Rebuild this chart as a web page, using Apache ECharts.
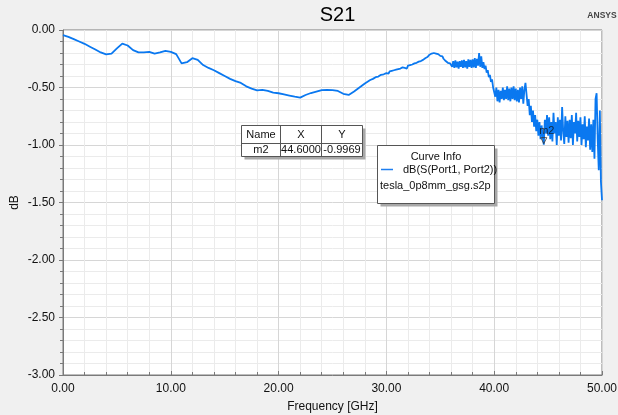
<!DOCTYPE html>
<html>
<head>
<meta charset="utf-8">
<script src="https://cdn.jsdelivr.net/npm/echarts@6/dist/echarts.min.js"></script>
<style>
html,body{margin:0;padding:0;background:#f0f0f0;}
#c{width:618px;height:415px;}
</style>
</head>
<body>
<div id="c"></div>
<script>
// Smooth low-frequency part (GHz, dB)
const smoothFreq = [0,0.5,1,1.5,2,2.5,3,3.5,4,4.5,5,5.5,6,6.5,7,7.5,8,8.5,9,9.5,10,10.5,11,11.5,12,12.5,13,13.5,14,14.5,15,15.5,16,16.5,17,17.5,18,18.5,19,19.5,20,20.5,21,21.5,22,22.5,23,23.5,24,24.5,25,25.5,26,26.5,27,27.5,28,28.25,28.5,28.75,29,29.25,29.5,29.75];
const smoothDb = [-0.045,-0.06,-0.08,-0.10,-0.12,-0.145,-0.17,-0.195,-0.212,-0.205,-0.16,-0.118,-0.135,-0.175,-0.195,-0.195,-0.19,-0.205,-0.195,-0.182,-0.19,-0.21,-0.29,-0.28,-0.245,-0.26,-0.305,-0.33,-0.35,-0.375,-0.40,-0.425,-0.445,-0.46,-0.49,-0.51,-0.525,-0.52,-0.53,-0.545,-0.55,-0.56,-0.57,-0.58,-0.588,-0.565,-0.548,-0.535,-0.522,-0.52,-0.522,-0.53,-0.555,-0.565,-0.535,-0.5,-0.465,-0.45,-0.435,-0.425,-0.41,-0.405,-0.39,-0.385];
// Noisy sweep from 30.0 to 50.0 GHz, 0.1 GHz steps (dB)
const sweepStart = 30.0, sweepStep = 0.1;
const sweepDb = [
-0.375,-0.365,-0.38,-0.36,-0.37,-0.355,-0.365,-0.35,-0.36,-0.345,
-0.355,-0.34,-0.35,-0.335,-0.345,-0.325,-0.34,-0.33,-0.32,-0.335,
-0.31,-0.325,-0.305,-0.315,-0.3,-0.31,-0.29,-0.305,-0.285,-0.295,
-0.275,-0.29,-0.27,-0.28,-0.26,-0.265,-0.245,-0.255,-0.235,-0.23,
-0.215,-0.225,-0.205,-0.215,-0.2,-0.21,-0.205,-0.22,-0.21,-0.225,
-0.225,-0.24,-0.23,-0.25,-0.255,-0.27,-0.265,-0.285,-0.275,-0.29,
-0.28,-0.32,-0.27,-0.33,-0.265,-0.325,-0.275,-0.335,-0.27,-0.32,
-0.265,-0.33,-0.26,-0.325,-0.27,-0.335,-0.255,-0.32,-0.26,-0.33,
-0.255,-0.325,-0.245,-0.33,-0.25,-0.31,-0.2,-0.32,-0.23,-0.33,
-0.28,-0.34,-0.31,-0.37,-0.35,-0.41,-0.39,-0.45,-0.43,-0.5,
-0.49,-0.58,-0.5,-0.62,-0.52,-0.63,-0.53,-0.6,-0.5,-0.61,
-0.52,-0.6,-0.49,-0.61,-0.51,-0.62,-0.5,-0.6,-0.49,-0.61,
-0.51,-0.62,-0.52,-0.63,-0.5,-0.6,-0.49,-0.64,-0.52,-0.46,
-0.56,-0.66,-0.6,-0.74,-0.66,-0.8,-0.7,-0.84,-0.74,-0.88,
-0.78,-0.92,-0.8,-0.95,-0.83,-0.93,-0.9969,-0.78,-0.9,-0.74,
-0.92,-0.76,-0.95,-0.8,-0.97,-0.72,-0.9,-0.8,-1.0,-0.76,
-0.92,-0.78,-0.96,-0.67,-0.88,-0.99,-0.75,-0.93,-0.79,-0.98,
-0.78,-0.94,-0.74,-1.0,-0.8,-0.9,-0.72,-0.97,-0.79,-0.93,
-0.76,-1.0,-0.82,-0.95,-0.75,-1.02,-0.84,-0.96,-0.77,-1.04,
-0.82,-1.06,-0.78,-1.12,-0.6,-0.55,-0.95,-1.22,-0.7,-1.32,
-1.48];
// Marker
const markerName = 'm2', markerX = 44.6, markerY = -0.9969;
const seriesName = 'dB(S(Port1, Port2))';
const fileName = 'tesla_0p8mm_gsg.s2p';

const data = [];
for (let i = 0; i < smoothFreq.length; i++) data.push([smoothFreq[i], smoothDb[i]]);
for (let i = 0; i < sweepDb.length; i++) data.push([Math.round((sweepStart + i * sweepStep) * 10) / 10, sweepDb[i]]);

const FONT = '"Liberation Sans", Arial, sans-serif';
const chart = echarts.init(document.getElementById('c'), null, {renderer: 'canvas'});

function box(x, y, w, h) {
  return [
    {type: 'rect', shape: {x: x + 3, y: y + 3, width: w, height: h}, style: {fill: '#a8a8a8'}, z: 100},
    {type: 'rect', shape: {x: x, y: y, width: w, height: h}, style: {fill: '#fff', stroke: '#555', lineWidth: 1}, z: 101}
  ];
}
function txt(x, y, s, align) {
  return {type: 'text', x: x, y: y, z: 102, style: {text: s, font: '11px ' + FONT, fill: '#111', align: align || 'center', verticalAlign: 'middle'}};
}
function line(x1, y1, x2, y2, color, w) {
  return {type: 'line', z: 102, shape: {x1: x1, y1: y1, x2: x2, y2: y2}, style: {stroke: color || '#555', lineWidth: w || 1}};
}

const graphics = [].concat(
  box(241.5, 125.5, 121, 31),
  [line(241.5, 143.5, 362.5, 143.5), line(280.5, 125.5, 280.5, 156.5), line(321.5, 125.5, 321.5, 156.5),
   txt(261, 134.5, 'Name'), txt(301, 134.5, 'X'), txt(342, 134.5, 'Y'),
   txt(261, 150, markerName), txt(301, 150, markerX.toFixed(4)), txt(342, 150, markerY.toFixed(4))],
  box(377.5, 145.5, 117, 58),
  [txt(436, 157, 'Curve Info'), line(381, 169.5, 393, 169.5, '#1e7ff0', 1.5),
   txt(403, 170, seriesName, 'left'), txt(380, 186, fileName, 'left')],
  [{type: 'text', x: 602, y: 16, z: 102, style: {text: 'ANSYS', font: 'bold 8.5px ' + FONT, fill: '#444', align: 'center', verticalAlign: 'middle'}}]
);

chart.setOption({
  backgroundColor: '#f0f0f0',
  animation: false,
  title: {text: 'S21', left: 332.5, textAlign: 'center', top: 0,
    textStyle: {fontFamily: FONT, fontSize: 20, fontWeight: 'normal', color: '#000'}},
  grid: {left: 63, right: 16, top: 30, bottom: 40, containLabel: false, outerBoundsMode: 'none',
    show: true, backgroundColor: '#fff', borderColor: '#7a7a7a', borderWidth: 1},
  xAxis: {
    type: 'value', min: 0, max: 50, interval: 10,
    name: 'Frequency [GHz]', nameLocation: 'middle', nameGap: 26,
    nameTextStyle: {fontFamily: FONT, fontSize: 12, color: '#111'},
    axisLine: {onZero: false, lineStyle: {color: '#7a7a7a'}},
    axisTick: {show: true, inside: true, length: 4, lineStyle: {color: '#7a7a7a'}},
    minorTick: {show: true, splitNumber: 5, length: 3, lineStyle: {color: '#7a7a7a'}},
    axisLabel: {fontFamily: FONT, fontSize: 12, color: '#111', margin: 8, formatter: v => v.toFixed(2)},
    splitLine: {show: true, lineStyle: {color: '#d6d6d6', width: 1}},
    minorSplitLine: {show: true, lineStyle: {color: '#ebebeb', width: 1}}
  },
  yAxis: {
    type: 'value', min: -3, max: 0, interval: 0.5,
    name: 'dB', nameLocation: 'middle', nameGap: 42, nameMoveOverlap: false,
    nameTextStyle: {fontFamily: FONT, fontSize: 12, color: '#111'},
    axisLine: {show: true, onZero: false, lineStyle: {color: '#7a7a7a'}},
    axisTick: {show: true, inside: false, length: 4, lineStyle: {color: '#7a7a7a'}},
    minorTick: {show: true, splitNumber: 5, length: 3, lineStyle: {color: '#7a7a7a'}},
    axisLabel: {fontFamily: FONT, fontSize: 12, color: '#111', margin: 8, formatter: v => v.toFixed(2)},
    splitLine: {show: true, lineStyle: {color: '#d6d6d6', width: 1}},
    minorSplitLine: {show: true, lineStyle: {color: '#ebebeb', width: 1}}
  },
  series: [
    {type: 'line', name: seriesName, data: data, showSymbol: false, symbol: 'none',
      lineStyle: {color: '#0a78f0', width: 1.8}, z: 3},
    {type: 'scatter', data: [[markerX, markerY]], symbol: 'triangle', symbolRotate: 180, symbolSize: 6,
      symbolOffset: [0, -4],
      itemStyle: {color: 'rgba(0,0,0,0)', borderColor: '#333', borderWidth: 1},
      label: {show: true, formatter: markerName, position: 'top', distance: 1, offset: [3, 0],
        fontFamily: FONT, fontSize: 11, color: '#111'}, z: 4}
  ],
  graphic: graphics
});
</script>
</body>
</html>
